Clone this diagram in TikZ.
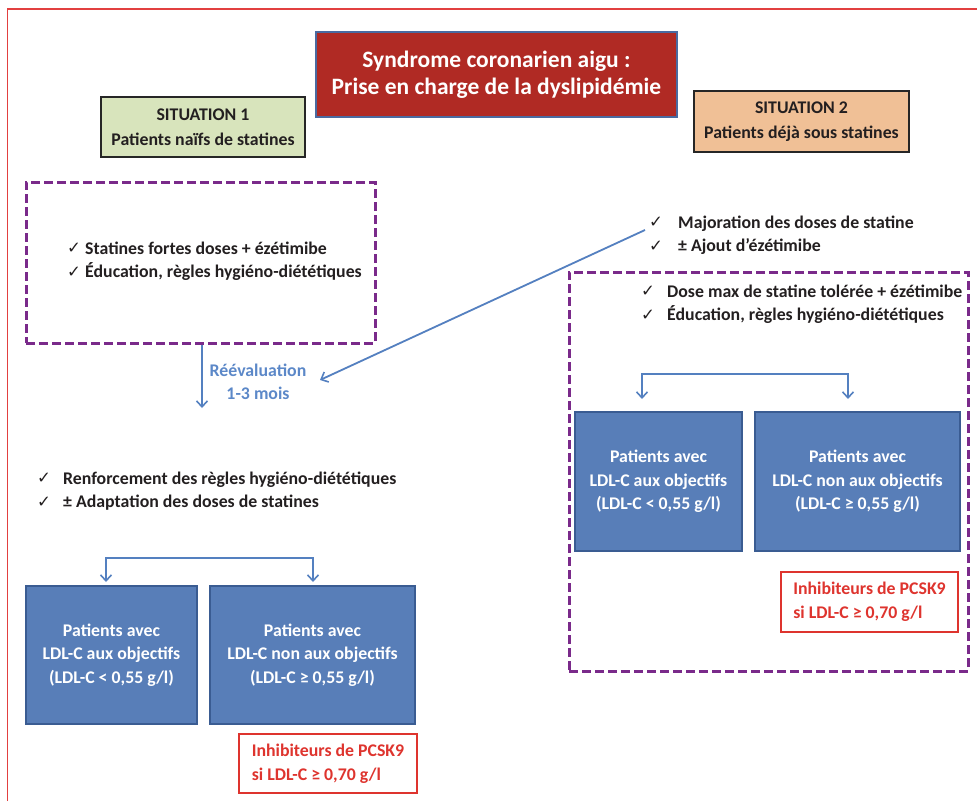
\documentclass[tikz,border=0pt]{standalone}
\usepackage{fontspec}
\setmainfont{Carlito}
\newfontfamily\symf{DejaVu Sans}
\usetikzlibrary{arrows.meta}
\definecolor{titlered}{RGB}{176,42,36}
\definecolor{titleborder}{RGB}{74,106,160}
\definecolor{sitgreen}{RGB}{216,228,188}
\definecolor{sitpeach}{RGB}{240,192,150}
\definecolor{dashpurple}{RGB}{122,42,138}
\definecolor{boxblue}{RGB}{88,126,184}
\definecolor{boxborder}{RGB}{58,92,146}
\definecolor{connblue}{RGB}{84,128,192}
\definecolor{reevblue}{RGB}{92,136,200}
\definecolor{alertred}{RGB}{222,52,46}
\definecolor{framered}{RGB}{226,64,64}
\definecolor{textdark}{RGB}{35,31,32}
\newcommand{\ckm}[1]{\makebox[#1][l]{\raisebox{0.5pt}{\fontsize{16.5}{16.5}\symf ✓}}}
\begin{document}
\begin{tikzpicture}[x=1pt,y=-1pt,
  basefont/.style={font=\fontsize{17.8}{23.5}\selectfont\bfseries},
  txt/.style={basefont, text=textdark, inner sep=0pt, align=left, anchor=west},
  titlebox/.style={draw=titleborder, line width=2pt, fill=titlered, text=white,
    font=\fontsize{23.5}{27}\selectfont\bfseries, align=center, inner sep=0pt},
  sitbox/.style={draw=black!85, line width=2.5pt, basefont, text=textdark, align=center, inner sep=0pt},
  dashbox/.style={draw=dashpurple, line width=3pt, dash pattern=on 9pt off 4pt},
  bluebox/.style={draw=boxborder, line width=2pt, fill=boxblue, text=white, basefont,
    align=center, inner sep=0pt},
  alertbox/.style={draw=alertred, line width=2pt, text=alertred, basefont,
    align=left, inner sep=0pt},
  conn/.style={draw=connblue, line width=1.8pt},
  tip/.style={-{Straight Barb[length=6pt,width=11pt,line width=1.6pt]}},
  tips/.style={{Straight Barb[length=6pt,width=11pt,line width=1.6pt]}-{Straight Barb[length=6pt,width=11pt,line width=1.6pt]}}
]
\useasboundingbox (0,0) rectangle (977,801);
% outer frame
\coordinate (frbl) at (7.5,801);
\coordinate (frtl) at (7.5,9);
\coordinate (frtr) at (977,9);
\draw[framered, line width=1.6pt] (frbl) -- (frtl) -- (frtr);

% title and situations
\node[titlebox, minimum width=361pt, minimum height=85pt] (title) at (496.5,74.5)
  {Syndrome coronarien aigu :\\Prise en charge de la dyslipidémie};
\node[sitbox, fill=sitgreen, minimum width=204pt, minimum height=60pt] (sit1) at (203,127)
  {SITUATION 1\\[2pt]Patients naïfs de statines};
\node[sitbox, fill=sitpeach, minimum width=215pt, minimum height=61pt] (sit2) at (801.5,121.5)
  {SITUATION 2\\[2pt]Patients déjà sous statines};

% left dashed box
\node[dashbox, minimum width=349pt, minimum height=161pt, inner sep=0pt] (lbox) at (200.5,262.5) {};
\node[txt] (ltxt) at (67,261) {\ckm{18pt}Statines fortes doses + ézétimibe\\\ckm{18pt}Éducation, règles hygiéno-diététiques};

% reevaluation
\node[basefont, text=reevblue, align=center, inner sep=0pt] (reev) at (258,382) {Réévaluation\\1-3 mois};
\coordinate (reevend) at (202,408);
\draw[conn, tip] (lbox.south -| reevend) -- (reevend);

% right top text
\node[txt] (rtop) at (649,235) {\ckm{29pt}Majoration des doses de statine\\\ckm{29pt}± Ajout d’ézétimibe};
\coordinate (diagstart) at (645,230);
\coordinate (diagend) at (320,380);
\draw[conn, tip] (diagstart) -- (diagend);

% right dashed box
\node[dashbox, minimum width=399pt, minimum height=399pt, inner sep=0pt] (rbox) at (567.5,270.5) [anchor=north west] {};
\node[txt] (rtxt) at (641,304) {\ckm{26pt}Dose max de statine tolérée + ézétimibe\\\ckm{26pt}Éducation, règles hygiéno-diététiques};

% right outcome boxes
\node[bluebox, minimum width=167pt, minimum height=139pt] (ra) at (658.5,481.5)
  {Patients avec\\LDL-C aux objectifs\\(LDL-C < 0,55 g/l)};
\node[bluebox, minimum width=205pt, minimum height=139pt] (rb) at (857.5,481.5)
  {Patients avec\\LDL-C non aux objectifs\\(LDL-C ≥ 0,55 g/l)};
\draw[conn, tips] ([xshift=-16.5pt,yshift=12pt]ra.north) -- ++(0,-25) -| ([xshift=-9.5pt,yshift=12pt]rb.north);
\node[alertbox, minimum width=177pt, minimum height=60pt] (rred) at (869.5,602)
  {Inhibiteurs de PCSK9\\si LDL-C ≥ 0,70 g/l};

% left lower text
\node[txt] (lltxt) at (37,491) {\ckm{26pt}Renforcement des règles hygiéno-diététiques\\\ckm{26pt}± Adaptation des doses de statines};

% left outcome boxes
\node[bluebox, minimum width=171pt, minimum height=138pt] (lc) at (111.5,655)
  {Patients avec\\LDL-C aux objectifs\\(LDL-C < 0,55 g/l)};
\node[bluebox, minimum width=205pt, minimum height=138pt] (ld) at (312.5,655)
  {Patients avec\\LDL-C non aux objectifs\\(LDL-C ≥ 0,55 g/l)};
\draw[conn, tips] ([xshift=-5.5pt,yshift=3pt]lc.north) -- ++(0,-24) -| ([xshift=0.5pt,yshift=3pt]ld.north);
\node[alertbox, minimum width=178pt, minimum height=59pt] (lred) at (328,763.5)
  {Inhibiteurs de PCSK9\\si LDL-C ≥ 0,70 g/l};
\end{tikzpicture}
\end{document}
